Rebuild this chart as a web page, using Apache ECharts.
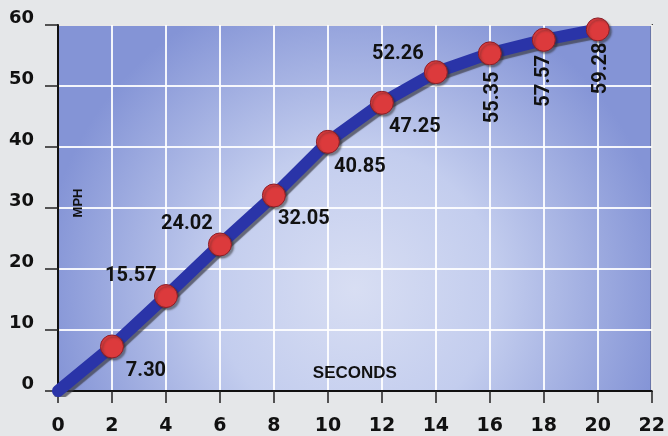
<!DOCTYPE html>
<html>
<head>
<meta charset="utf-8">
<script src="https://cdn.jsdelivr.net/npm/echarts@6/dist/echarts.min.js"></script>
<style>
html,body{margin:0;padding:0;background:#e5e7e9;}
#c{width:668px;height:436px;}
</style>
</head>
<body>
<div id="c"></div>
<script>
// Data
const seconds = [0, 2, 4, 6, 8, 10, 12, 14, 16, 18, 20];
const mph = [0, 7.30, 15.57, 24.02, 32.05, 40.85, 47.25, 52.26, 55.35, 57.57, 59.28];
const labelText = ['', '7.30', '15.57', '24.02', '32.05', '40.85', '47.25', '52.26', '55.35', '57.57', '59.28'];
const xAxisName = 'SECONDS';
const yAxisName = 'MPH';

// Label placement (layout only); rotated labels use offsets in the rotated frame
const labelOffsets = [null, [34, 25], [-35, -20], [-33, -20], [30, 24], [32, 25], [33, 24], [-38, -18], [-44, 3], [-41, 0], [-39, 3]];
const labelRotate = [0, 0, 0, 0, 0, 0, 0, 0, 90, 90, 90];

const labelFont = 'Roboto, "Liberation Sans", sans-serif';

const seriesData = seconds.map((s, i) => {
  const item = { value: [s, mph[i]] };
  if (i === 0) {
    item.symbol = 'none';
    item.label = { show: false };
  } else {
    item.label = {
      show: true,
      formatter: labelText[i],
      position: 'inside',
      offset: labelOffsets[i],
      rotate: labelRotate[i],
      align: 'center',
      verticalAlign: 'middle'
    };
  }
  return item;
});

const chart = echarts.init(document.getElementById('c'), null, { renderer: 'canvas' });
chart.setOption({
  animation: false,
  backgroundColor: '#e5e7e9',
  grid: {
    left: 58, top: 25, right: 14, bottom: 44,
    show: true,
    borderColor: '#111',
    borderWidth: 2,
    backgroundColor: {
      type: 'radial', x: 0.5, y: 0.72, r: 0.85,
      colorStops: [
        { offset: 0, color: '#d8def3' },
        { offset: 0.45, color: '#c3cdee' },
        { offset: 1, color: '#8494d6' }
      ]
    }
  },
  xAxis: {
    type: 'value', min: 0, max: 22, interval: 2,
    name: xAxisName, nameLocation: 'middle', nameGap: -18,
    nameTextStyle: { fontFamily: 'Liberation Sans, Arial, sans-serif', fontWeight: 'bold', fontSize: 17, color: '#111', verticalAlign: 'middle' },
    axisLine: { show: true, lineStyle: { color: '#111', width: 2 } },
    axisTick: { show: true, length: 12, lineStyle: { color: '#222', width: 1.5 } },
    axisLabel: { margin: 26, fontFamily: 'DejaVu Sans, sans-serif', fontWeight: 'bold', fontSize: 19, color: '#111' },
    splitLine: { show: true, lineStyle: { color: 'rgba(255,255,255,0.9)', width: 2 } }
  },
  yAxis: {
    type: 'value', min: 0, max: 60, interval: 10,
    name: yAxisName, nameLocation: 'middle', nameRotate: 90, nameGap: -20,
    nameTextStyle: { fontFamily: 'Liberation Sans, Arial, sans-serif', fontWeight: 'bold', fontSize: 13, color: '#111', verticalAlign: 'middle', align: 'center', padding: [0, 0, 0, 10] },
    axisLine: { show: true, lineStyle: { color: '#111', width: 2 } },
    axisTick: { show: true, length: 13, lineStyle: { color: '#222', width: 1.5 } },
    axisLabel: { margin: 24, fontFamily: 'DejaVu Sans, sans-serif', fontWeight: 'bold', fontSize: 18, color: '#111', verticalAlign: 'bottom', lineHeight: 14 },
    splitLine: { show: true, lineStyle: { color: 'rgba(255,255,255,0.9)', width: 2 } }
  },
  series: [{
    type: 'line',
    data: seriesData,
    symbol: 'circle',
    symbolSize: 23,
    itemStyle: { color: '#dc3a3c', borderColor: '#8a1f28', borderWidth: 1, shadowColor: 'rgba(40,40,40,0.5)', shadowBlur: 2, shadowOffsetX: 2, shadowOffsetY: 2 },
    lineStyle: { color: '#2a34a8', width: 12, cap: 'round', join: 'round', shadowColor: 'rgba(60,60,70,0.7)', shadowBlur: 1, shadowOffsetX: 2, shadowOffsetY: 3 },
    label: { fontFamily: labelFont, fontWeight: 'bold', fontSize: 20, color: '#111' },
    z: 3
  }]
});
</script>
</body>
</html>
